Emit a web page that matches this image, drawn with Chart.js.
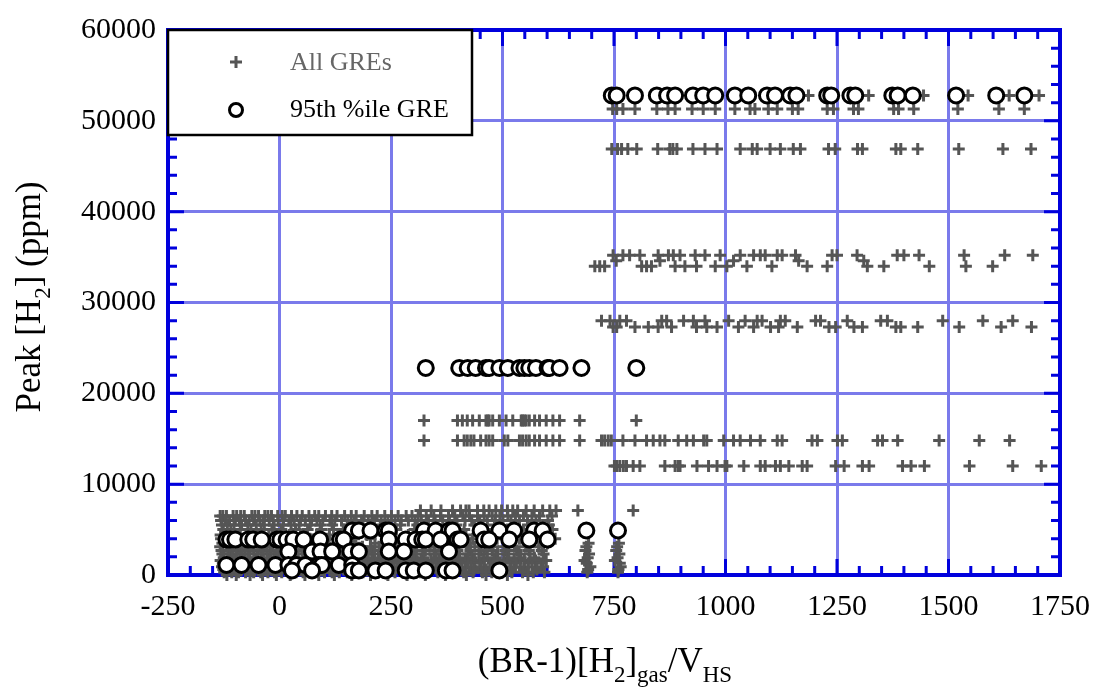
<!DOCTYPE html>
<html>
<head>
<meta charset="utf-8">
<title>Peak H2 vs (BR-1)[H2]gas/VHS</title>
<script src="https://cdn.jsdelivr.net/npm/chart.js@4.4.1/dist/chart.umd.min.js"></script>
<style>
  html, body { margin: 0; padding: 0; background: #ffffff; }
  #wrap { width: 1104px; height: 690px; }
</style>
</head>
<body>
<div id="wrap"><canvas id="h2Chart" width="1104" height="690"></canvas></div>
<script>
// Назви серій
const seriesNames = ['All GREs', '95th %ile GRE'];

// Межі осей і кроки поділок
const xRange = [-250, 1750];
const yRange = [0, 60000];
const xStep = 250, xMinor = 50;
const yStep = 10000, yMinor = 2000;

// Усі GRE: рівні піку [H2] (ppm) і значення (BR-1)[H2]gas/VHS на кожному рівні
const allLevels = [52800, 51300, 46900, 35200, 34600, 34000, 28000, 27300, 17000, 14800, 12000,
    7100, 6500, 6000, 5500, 5000, 4400, 4000, 3500, 3100, 2700, 2300, 1900, 1600, 1300, 900, 600, 300, 0];
const allX = [
    [1186, 1321, 1444, 1544, 1636, 1703],
    [747, 756, 770, 797, 846, 871, 887, 925, 950, 977, 1021, 1055, 1066, 1096, 1116, 1150, 1163, 1228, 1242, 1287, 1298, 1377, 1388, 1422, 1521, 1613, 1670],
    [745, 758, 767, 781, 801, 848, 875, 882, 891, 927, 954, 981, 1033, 1060, 1071, 1100, 1123, 1152, 1168, 1231, 1246, 1296, 1307, 1382, 1393, 1431, 1523, 1622, 1685],
    [748, 770, 785, 808, 849, 872, 883, 898, 932, 954, 988, 1033, 1063, 1078, 1089, 1116, 1127, 1157, 1239, 1250, 1295, 1385, 1400, 1434, 1535, 1626, 1689],
    [755, 853, 1018, 1164, 1310],
    [707, 718, 729, 812, 823, 834, 887, 909, 935, 977, 1003, 1048, 1104, 1183, 1228, 1318, 1355, 1457, 1539, 1599],
    [722, 741, 763, 778, 857, 868, 906, 928, 954, 1007, 1044, 1071, 1082, 1123, 1134, 1202, 1213, 1273, 1348, 1363, 1487, 1577, 1644],
    [748, 756, 797, 827, 849, 879, 935, 958, 981, 1029, 1063, 1101, 1119, 1161, 1232, 1247, 1288, 1307, 1382, 1393, 1431, 1524, 1618, 1686],
    [324, 399, 410, 421, 433, 448, 463, 467, 470, 478, 493, 508, 523, 542, 545, 549, 553, 560, 572, 583, 598, 613, 628, 673, 800],
    [324, 399, 414, 421, 429, 436, 451, 463, 470, 478, 504, 512, 538, 545, 553, 560, 572, 583, 598, 613, 628, 673, 722, 729, 737, 744, 770, 797, 823, 838, 853, 864, 894, 913, 928, 951, 958, 996, 1018, 1033, 1056, 1078, 1116, 1127, 1194, 1206, 1251, 1262, 1341, 1352, 1386, 1479, 1569, 1637],
    [751, 756, 763, 771, 778, 793, 808, 864, 887, 894, 898, 936, 962, 981, 999, 1003, 1041, 1078, 1089, 1112, 1123, 1142, 1172, 1183, 1247, 1266, 1307, 1322, 1397, 1416, 1446, 1547, 1644, 1708],
    [316, 340, 362, 388, 406, 418, 425, 444, 458, 470, 485, 498, 511, 523, 534, 553, 571, 590, 606, 620, 669, 793],
    [-133, -127, -119, -104, -96, -87, -79, -62, -55, -47, -33, -26, -18, -4, 6, 13, 27, 39, 51, 66, 79, 88, 103, 117, 129, 146, 161, 172, 190, 207, 219, 236, 251, 266, 284, 297, 311, 329, 346, 361, 379, 393, 411, 426, 444, 459, 477, 494, 512, 529, 547, 566, 583, 611],
    [-131, -122, -112, -99, -90, -76, -68, -58, -44, -37, -23, -14, -3, 9, 21, 33, 47, 58, 72, 84, 97, 113, 124, 139, 153, 168, 184, 199, 213, 228, 243, 259, 273, 289, 304, 318, 334, 349, 366, 381, 398, 416, 431, 449, 466, 484, 501, 519, 538, 556, 575, 602],
    [-129, -117, -102, -85, -71, -52, -34, -12, 8, 26, 44, 69, 91, 118, 152, 187, 226, 271, 309, 352, 396, 437, 482, 521, 563, 604],
    [-126, -109, -88, -64, -41, -17, 4, 36, 63, 94, 121, 143, 192, 262, 303, 414, 466, 547, 612],
    [-132, -114, -93, -72, -51, -24, -2, 22, 47, 83, 112, 157, 196, 233, 289, 334, 371, 418, 457, 503, 549, 596],
    [-131, -96, -83, -46, -28, 7, 68, 106, 167, 204, 258, 341, 377, 433, 488, 538, 584, 618],
    [-128, -108, -86, -63, -39, -15, 12, 41, 77, 103, 138, 171, 214, 252, 296, 337, 383, 426, 471, 514, 556, 601, 693, 761],
    [-133, -118, -104, -91, -73, -62, -44, -29, -16, 1, 17, 29, 48, 63, 77, 96, 111, 128, 147, 163, 186, 204, 223, 246, 261, 279, 298, 321, 338, 357, 379, 397, 419, 438, 461, 479, 503, 527, 552, 581, 688, 757],
    [-130, -114, -95, -78, -57, -41, -22, -3, 14, 35, 53, 72, 97, 119, 136, 158, 181, 207, 229, 254, 276, 303, 327, 349, 374, 399, 428, 452, 477, 506, 532, 559, 588, 686, 755],
    [-128, -111, -97, -84, -67, -49, -36, -19, -6, 11, 27, 42, 61, 74, 93, 106, 124, 141, 158, 177, 197, 213, 231, 252, 267, 287, 307, 324, 346, 363, 386, 402, 423, 447, 466, 489, 511, 537, 562, 592, 694, 762],
    [-125, -106, -88, -69, -50, -28, -11, 9, 31, 52, 78, 99, 122, 146, 173, 199, 222, 248, 273, 299, 322, 351, 378, 404, 431, 459, 485, 514, 541, 571, 691, 758],
    [-132, -116, -101, -86, -71, -53, -39, -22, -9, 7, 23, 38, 56, 71, 87, 102, 119, 137, 152, 171, 189, 208, 226, 244, 263, 281, 301, 318, 339, 358, 377, 396, 417, 437, 458, 481, 503, 526, 549, 574, 598, 684, 752],
    [-127, -109, -90, -73, -52, -33, -14, 6, 28, 49, 73, 94, 117, 141, 166, 193, 217, 243, 268, 292, 319, 344, 368, 397, 423, 449, 478, 503, 531, 558, 587, 689, 763],
    [-129, -113, -94, -81, -63, -46, -31, -14, 2, 18, 34, 51, 66, 82, 99, 116, 132, 149, 166, 184, 201, 219, 238, 256, 274, 293, 312, 331, 351, 371, 389, 409, 430, 451, 472, 494, 517, 540, 566, 591, 697, 765],
    [-126, -104, -85, -61, -43, -21, 1, 24, 46, 71, 93, 119, 144, 168, 196, 221, 247, 274, 298, 327, 353, 381, 407, 436, 463, 492, 519, 548, 577, 692, 760],
    [-124, -107, -92, -76, -58, -42, -26, -11, 5, 20, 37, 53, 69, 86, 101, 118, 134, 152, 169, 187, 205, 222, 241, 259, 277, 297, 316, 334, 355, 374, 393, 413, 434, 455, 476, 499, 521, 545, 569, 594, 690, 759],
    [-118, -97, -66, -38, -7, 24, 57, 88, 123, 162, 204, 243, 286, 327, 372, 419, 463, 511, 557]
];

// 95-й процентиль GRE
const topLevels = [52800, 22800, 4900, 3900, 2600, 1100, 500];
const topX = [
    [745, 756, 797, 846, 869, 887, 927, 950, 977, 1021, 1051, 1093, 1111, 1145, 1159, 1228, 1237, 1280, 1291, 1374, 1386, 1420, 1517, 1607, 1670],
    [328, 403, 422, 440, 463, 470, 493, 512, 538, 549, 560, 575, 601, 605, 628, 677, 800],
    [163, 178, 204, 238, 245, 324, 350, 380, 388, 451, 493, 526, 571, 590, 688, 759],
    [-119, -111, -99, -70, -59, -40, -6, 2, 16, 31, 54, 91, 136, 144, 245, 283, 305, 320, 328, 361, 399, 406, 459, 470, 515, 560, 601],
    [20, 73, 92, 118, 159, 178, 245, 279, 380],
    [-119, -85, -47, -9, 20, 38, 58, 88, 95, 133, 163],
    [28, 73, 163, 178, 215, 238, 283, 301, 328, 373, 388, 493]
];

// Перетворення рівнів у точки для scatter
function toPoints(levels, xs) {
    const pts = [];
    levels.forEach((lvl, i) => {
        xs[i].forEach(x => pts.push({ x: x, y: lvl }));
    });
    return pts;
}

const SERIF = "'Liberation Serif', 'Times New Roman', serif";
const AXIS_BLUE = '#0000dd';
const GRID_BLUE = '#7a7aeb';
const PLUS_GREY = '#555555';

// Текст із нижніми індексами: частини [текст, isSub]
function drawRich(ctx, parts, x, y, size) {
    const subSize = Math.round(size * 0.66);
    let w = 0;
    parts.forEach(([t, sub]) => {
        ctx.font = (sub ? subSize : size) + 'px ' + SERIF;
        w += ctx.measureText(t).width;
    });
    let cx = x - w / 2;
    ctx.textAlign = 'left';
    ctx.textBaseline = 'alphabetic';
    parts.forEach(([t, sub]) => {
        ctx.font = (sub ? subSize : size) + 'px ' + SERIF;
        ctx.fillText(t, cx, sub ? y + size * 0.28 : y);
        cx += ctx.measureText(t).width;
    });
}

// Рамка осей і внутрішні поділки з усіх чотирьох боків
const frameTicks = {
    id: 'frameTicks',
    beforeDatasetsDraw(chart) {
        const { ctx, chartArea: a, scales: { x, y } } = chart;
        ctx.save();
        ctx.strokeStyle = AXIS_BLUE;
        ctx.lineWidth = 3;
        ctx.beginPath();
        for (let v = xRange[0]; v <= xRange[1]; v += xMinor) {
            const px = x.getPixelForValue(v);
            const len = v % xStep === 0 ? 16 : 9;
            ctx.moveTo(px, a.bottom); ctx.lineTo(px, a.bottom - len);
            ctx.moveTo(px, a.top); ctx.lineTo(px, a.top + len);
        }
        for (let v = yRange[0]; v <= yRange[1]; v += yMinor) {
            const py = y.getPixelForValue(v);
            const len = v % yStep === 0 ? 16 : 9;
            ctx.moveTo(a.left, py); ctx.lineTo(a.left + len, py);
            ctx.moveTo(a.right, py); ctx.lineTo(a.right - len, py);
        }
        ctx.stroke();
        ctx.lineWidth = 4;
        ctx.strokeRect(a.left, a.top, a.right - a.left, a.bottom - a.top);
        ctx.restore();
    }
};

// Легенда в рамці та підписи осей
const legendAndTitles = {
    id: 'legendAndTitles',
    afterDraw(chart) {
        const { ctx, chartArea: a } = chart;
        ctx.save();

        // рамка легенди
        const bx = a.left, by = a.top, bw = 304, bh = 105;
        ctx.fillStyle = '#ffffff';
        ctx.fillRect(bx, by, bw, bh);
        ctx.strokeStyle = '#000000';
        ctx.lineWidth = 2.5;
        ctx.strokeRect(bx, by, bw, bh);

        // хрестик
        const mx = bx + 68;
        ctx.strokeStyle = PLUS_GREY;
        ctx.lineWidth = 3;
        ctx.beginPath();
        ctx.moveTo(mx - 6, by + 32); ctx.lineTo(mx + 6, by + 32);
        ctx.moveTo(mx, by + 26); ctx.lineTo(mx, by + 38);
        ctx.stroke();

        // кружок
        ctx.strokeStyle = '#000000';
        ctx.fillStyle = '#ffffff';
        ctx.lineWidth = 3;
        ctx.beginPath();
        ctx.arc(mx, by + 80, 6.5, 0, Math.PI * 2);
        ctx.fill();
        ctx.stroke();

        ctx.font = '26px ' + SERIF;
        ctx.textAlign = 'left';
        ctx.textBaseline = 'alphabetic';
        ctx.fillStyle = '#666666';
        ctx.fillText(seriesNames[0], bx + 122, by + 40);
        ctx.fillStyle = '#000000';
        ctx.fillText(seriesNames[1], bx + 122, by + 87);

        // підпис осі X
        ctx.fillStyle = '#000000';
        drawRich(ctx, [['(BR-1)[H', false], ['2', true], [']', false], ['gas', true], ['/V', false], ['HS', true]],
            605, 672, 35);

        // підпис осі Y
        ctx.translate(40, 297);
        ctx.rotate(-Math.PI / 2);
        drawRich(ctx, [['Peak [H', false], ['2', true], ['] (ppm)', false]], 0, 0, 35);

        ctx.restore();
    }
};

const ctx = document.getElementById('h2Chart').getContext('2d');
new Chart(ctx, {
    type: 'scatter',
    data: {
        datasets: [{
            label: seriesNames[1],
            data: toPoints(topLevels, topX),
            pointStyle: 'circle',
            pointRadius: 7.5,
            pointBorderWidth: 3,
            pointBorderColor: '#000000',
            pointBackgroundColor: '#ffffff',
            order: 0,
            clip: false
        }, {
            label: seriesNames[0],
            data: toPoints(allLevels, allX),
            pointStyle: 'cross',
            pointRadius: 6,
            pointBorderWidth: 3,
            pointBorderColor: PLUS_GREY,
            pointBackgroundColor: PLUS_GREY,
            order: 1,
            clip: false
        }]
    },
    options: {
        responsive: false,
        animation: false,
        devicePixelRatio: 1,
        layout: { padding: { top: 28, right: 42, left: 0, bottom: 0 } },
        plugins: {
            legend: { display: false },
            tooltip: { enabled: false }
        },
        scales: {
            x: {
                type: 'linear',
                min: xRange[0],
                max: xRange[1],
                afterFit: scale => { scale.height = 115; },
                ticks: {
                    stepSize: xStep,
                    padding: 14,
                    color: '#000000',
                    font: { family: SERIF, size: 30 },
                    maxRotation: 0,
                    callback: v => String(v)
                },
                grid: { color: GRID_BLUE, lineWidth: 3, drawTicks: false },
                border: { display: false }
            },
            y: {
                type: 'linear',
                min: yRange[0],
                max: yRange[1],
                afterFit: scale => { scale.width = 168; },
                ticks: {
                    stepSize: yStep,
                    padding: 12,
                    color: '#000000',
                    font: { family: SERIF, size: 30 },
                    callback: v => String(v)
                },
                grid: { color: GRID_BLUE, lineWidth: 3, drawTicks: false },
                border: { display: false }
            }
        }
    },
    plugins: [frameTicks, legendAndTitles]
});
</script>
</body>
</html>
